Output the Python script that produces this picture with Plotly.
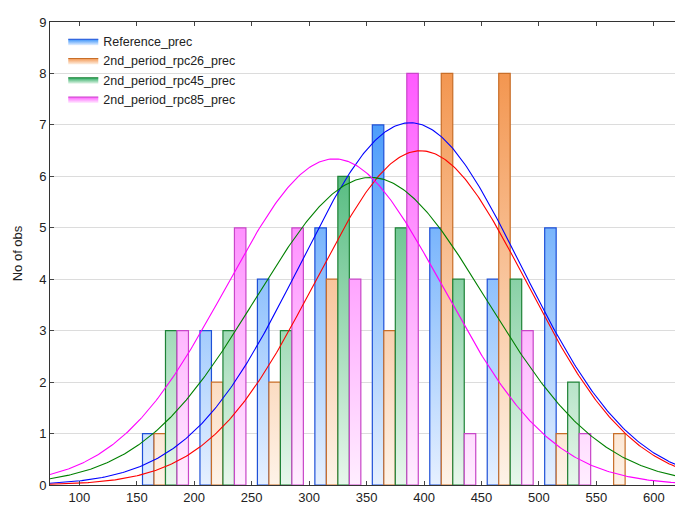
import numpy as np
import plotly.graph_objects as go

# ---- data ----
bin_centers = [175, 225, 275, 325, 375, 425, 475, 525, 575]
bin_width = 50
series_names = ["Reference_prec", "2nd_period_rpc26_prec", "2nd_period_rpc45_prec", "2nd_period_rpc85_prec"]
reference_prec = [1, 3, 4, 5, 7, 5, 4, 5, 0]
rpc26_prec = [1, 2, 2, 4, 3, 8, 8, 1, 1]
rpc45_prec = [3, 3, 3, 6, 5, 4, 4, 2, 0]
rpc85_prec = [3, 5, 5, 4, 8, 1, 3, 1, 0]
# fitted normal curves (mean, sd)
fit_means = [388, 397, 353.6, 322]
fit_sds = [96.3, 92.1, 100.1, 94.4]
x_ticks = [100, 150, 200, 250, 300, 350, 400, 450, 500, 550, 600]

counts = [reference_prec, rpc26_prec, rpc45_prec, rpc85_prec]
fill_top = ["rgb(55,145,250)", "rgb(243,150,80)", "rgb(40,170,95)", "rgb(255,90,255)"]
fill_bottom = ["rgb(230,240,255)", "rgb(254,243,232)", "rgb(232,247,236)", "rgb(255,238,255)"]
border = ["rgb(30,80,215)", "rgb(200,110,40)", "rgb(30,130,55)", "rgb(200,70,200)"]
curve_col = ["#0000ff", "#ff0000", "#008000", "#ff00ff"]
offsets = [-15, -5, 5, 15]
bar_w = 10

fig = go.Figure()
for i, name in enumerate(series_names):
    xs, ys = [], []
    for c, v in zip(bin_centers, counts[i]):
        if v <= 0:
            continue
        x0 = c + offsets[i] - bar_w / 2
        x1 = c + offsets[i] + bar_w / 2
        xs += [x0, x0, x1, x1, x0, None]
        ys += [0, v, v, 0, 0, None]
    fig.add_trace(go.Scatter(
        x=xs, y=ys, mode="lines", fill="toself", name=name,
        line=dict(color=border[i], width=1.2),
        fillgradient=dict(type="vertical", start=0, stop=8,
                          colorscale=[[0, fill_bottom[i]], [1, fill_top[i]]]),
        hoverinfo="skip"))

xc = np.linspace(74.5, 624.5, 400)
for i in range(4):
    n = sum(counts[i])
    yc = n * bin_width * np.exp(-0.5 * ((xc - fit_means[i]) / fit_sds[i]) ** 2) / (fit_sds[i] * np.sqrt(2 * np.pi))
    fig.add_trace(go.Scatter(x=xc, y=yc, mode="lines", showlegend=False,
                             line=dict(color=curve_col[i], width=1.1), hoverinfo="skip"))

axis_font = dict(family="Liberation Sans, Arial, sans-serif", size=13, color="#222")
# page body has an 8px margin, so the figure is 8px smaller and margins reduced by 8
fig.update_layout(
    width=675, height=501,
    margin=dict(l=42, r=1, t=14, b=24, autoexpand=False),
    paper_bgcolor="white", plot_bgcolor="white",
    font=axis_font,
    showlegend=True,
    legend=dict(x=0.021, y=0.99, xanchor="left", yanchor="top",
                bgcolor="rgba(0,0,0,0)", font=dict(size=12.5, color="#222"),
                tracegroupgap=0, itemwidth=30),
    xaxis=dict(range=[74.5, 624.5], tickvals=x_ticks, ticks="inside", ticklen=4,
               showline=True, linecolor="#333", linewidth=1, mirror="ticks",
               showgrid=False, zeroline=False, tickfont=axis_font),
    yaxis=dict(range=[0, 9], dtick=1, ticks="inside", ticklen=4,
               showline=True, linecolor="#333", linewidth=1, mirror="ticks",
               showgrid=True, gridcolor="#dcdcdc", gridwidth=1, zeroline=False,
               title=dict(text="No of obs", font=dict(size=13, color="#222"), standoff=13),
               tickfont=axis_font),
)
fig.write_html("out.html")
